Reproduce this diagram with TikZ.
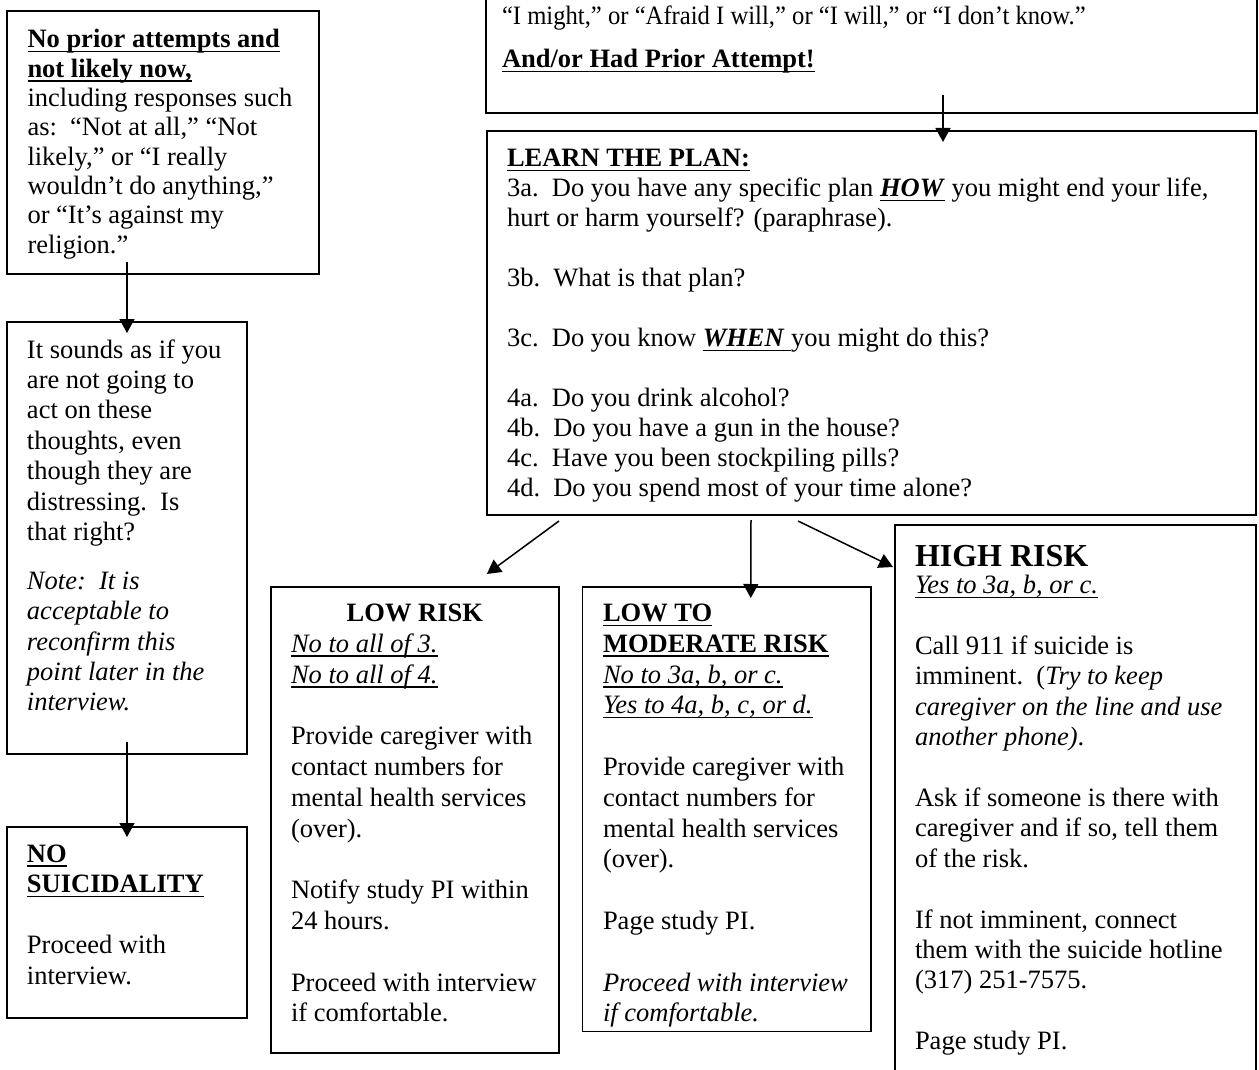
\documentclass[tikz,border=0pt]{standalone}
\usepackage{fontspec}
\usepackage{graphicx}
\setmainfont{Liberation Serif}
\usetikzlibrary{arrows.meta,calc}

% underline at a fixed depth, as in the word processor
\newsavebox{\ulsave}
\newcommand{\ulbox}[1]{\leavevmode\sbox{\ulsave}{#1}\rlap{\rule[-4.5pt]{\wd\ulsave}{1.5pt}}\usebox{\ulsave}}
% fixed-size text block: height, width, first baseline, text
\newcommand{\boxtext}[4]{\parbox[c][#1][t]{#2}{\raggedright\rule{0pt}{#3}#4}}

\begin{document}
\begin{tikzpicture}[x=1pt, y=-1pt,
    box/.style={draw, line width=1.8pt, anchor=north west, inner ysep=0pt, inner xsep=20pt, outer sep=0pt,
        font=\fontsize{26.5}{30.8}\selectfont},
    arr/.style={line width=1.5pt, -{Triangle[width=15pt,length=14pt]}}]

        \useasboundingbox (0,0) rectangle (1259,1070);

        % left column
        \node[box, inner xsep=20.5pt, font=\fontsize{26.5}{29.3}\selectfont] (prior) at (7,10.7)
            {\boxtext{263pt}{271pt}{37.3pt}{\ulbox{\textbf{No prior attempts and}}\\
            \ulbox{\textbf{not likely now,}}\\
            including responses such\\
            as:\ \ “Not at all,” “Not\\
            likely,” or “I really\\
            wouldn’t do anything,”\\
            or “It’s against my\\
            religion.”}};
        \node[box, font=\fontsize{26.5}{30.4}\selectfont] (sound) at (7,322)
            {\boxtext{432pt}{200pt}{36pt}{It sounds as if you\\
            are not going to\\
            act on these\\
            thoughts, even\\
            though they are\\
            distressing.\ \ Is\\
            that right?\\[18.5pt]
            \textit{Note:\ \ It is}\\
            \textit{acceptable to}\\
            \textit{reconfirm this}\\
            \textit{point later in the}\\
            \textit{interview.}}};
        \node[box, font=\fontsize{26.5}{30.5}\selectfont] (nosui) at (7,827)
            {\boxtext{191pt}{200pt}{35pt}{\ulbox{\textbf{NO}}\\
            \ulbox{\textbf{SUICIDALITY}}\\[\baselineskip]
            Proceed with\\
            interview.}};

        % top of the right column
        \node[box, inner xsep=16pt] (topq) at (486,-80)
            {\boxtext{193pt}{739pt}{105pt}{\scalebox{0.93}[1]{“I might,” or “Afraid I will,” or “I will,” or “I don’t know.”}\\[12pt]
            \ulbox{\textbf{And/or Had Prior Attempt!}}}};
        \node[box, font=\fontsize{26.5}{30}\selectfont] (plan) at (487,131)
            {\boxtext{384pt}{729pt}{35.7pt}{\ulbox{\textbf{LEARN THE PLAN:}}\\
            3a.\ \ Do you have any specific plan \ulbox{\textbf{\textit{HOW}}} you might end your life,\\
            hurt or harm yourself? (paraphrase).\\[\baselineskip]
            3b.\ \ What is that plan?\\[\baselineskip]
            3c.\ \ Do you know \ulbox{\textbf{\textit{WHEN}}\ }you might do this?\\[\baselineskip]
            4a.\ \ Do you drink alcohol?\\
            4b.\ \ Do you have a gun in the house?\\
            4c.\ \ Have you been stockpiling pills?\\
            4d.\ \ Do you spend most of your time alone?}};

        % risk levels
        \node[box, inner xsep=20.3pt] (low) at (270.7,587)
            {\boxtext{466pt}{247.7pt}{34.5pt}{\makebox[\linewidth]{\textbf{LOW RISK}}\\
            \ulbox{\textit{No to all of 3.}}\\
            \ulbox{\textit{No to all of 4.}}\\[\baselineskip]
            Provide caregiver with\\
            contact numbers for\\
            mental health services\\
            (over).\\[\baselineskip]
            Notify study PI within\\
            24 hours.\\[\baselineskip]
            Proceed with interview\\
            if comfortable.}};
        \node[box, inner xsep=20.5pt] (lowmod) at (582.5,587)
            {\boxtext{444.5pt}{247.5pt}{34.5pt}{\ulbox{\textbf{LOW TO}}\\
            \ulbox{\textbf{MODERATE RISK}}\\
            \ulbox{\textit{No to 3a, b, or c.}}\\
            \ulbox{\textit{Yes to 4a, b, c, or d.}}\\[\baselineskip]
            Provide caregiver with\\
            contact numbers for\\
            mental health services\\
            (over).\\[\baselineskip]
            Page study PI.\\[\baselineskip]
            \textit{Proceed with interview}\\
            \textit{if comfortable.}}};
        \node[box, font=\fontsize{26.5}{30.4}\selectfont] (high) at (895,525)
            {\boxtext{600pt}{321pt}{41pt}{{\fontsize{32}{32}\selectfont\textbf{HIGH RISK}}\\[-2.7pt]
            \ulbox{\textit{Yes to 3a, b, or c.}}\\[\baselineskip]
            Call 911 if suicide is\\
            imminent.\ \ (\textit{Try to keep}\\
            \textit{caregiver on the line and use}\\
            \textit{another phone)}.\\[\baselineskip]
            Ask if someone is there with\\
            caregiver and if so, tell them\\
            of the risk.\\[\baselineskip]
            If not imminent, connect\\
            them with the suicide hotline\\
            (317) 251-7575.\\[\baselineskip]
            Page study PI.}};

        % arrows
        \draw[arr] ($(prior.south west)+(120,-12)$) -- ($(sound.north)+(0,11)$);
        \draw[arr] ($(sound.south)+(0,-12)$) -- ($(nosui.north)+(0,10)$);
        \draw[arr] ($(topq.south west)+(457,-18)$) -- ($(plan.north west)+(456,11)$);
        \draw[arr] ($(plan.south west)+(72,6)$) -- ($(low.north)+(72,-13)$);
        \draw[arr] ($(plan.south west)+(264,5)$) -- ($(lowmod.north)+(24,11)$);
        \draw[arr] ($(plan.south west)+(311,6)$) -- ($(high.north west)+(-2,42)$);
    \end{tikzpicture}
\end{document}
